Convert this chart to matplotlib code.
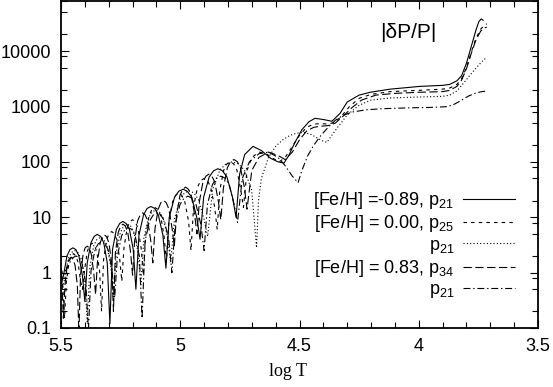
import matplotlib
matplotlib.use("Agg")
import matplotlib.pyplot as plt
from matplotlib.ticker import FixedLocator, LogLocator, NullFormatter, MultipleLocator, FuncFormatter

# |dP/P| vs log T (one row per arch)

# [Fe/H] = -0.89, p21 (solid)
m089_p21_logT = [5.500, 5.490, 5.475, 5.4625, 5.450, 5.4375, 5.425, 5.410,
                 5.400, 5.390, 5.374, 5.361, 5.348, 5.334, 5.321, 5.306,
                 5.295, 5.284, 5.268, 5.254, 5.241, 5.227, 5.213, 5.197,
                 5.186, 5.173, 5.154, 5.139, 5.123, 5.107, 5.092, 5.073,
                 5.060, 5.046, 5.024, 5.006, 4.988, 4.971, 4.952, 4.931,
                 4.917, 4.902, 4.879, 4.860, 4.842, 4.823, 4.804, 4.781,
                 4.766, 4.751, 4.730, 4.695, 4.660, 4.620, 4.590, 4.565, 4.545, 4.520,
                 4.490, 4.460, 4.435, 4.400, 4.364, 4.330, 4.300, 4.250, 4.204, 4.120,
                 3.995, 3.900, 3.870, 3.840, 3.820, 3.800, 3.780, 3.760, 3.748, 3.738, 3.730]
m089_p21_dP = [0.6, 0.87, 2.0, 2.6, 2.8, 2.6, 2.0, 0.87,
               0.3, 1.5, 3.5, 4.5, 4.9, 4.5, 3.5, 1.5,
               0.12, 2.6, 6.0, 7.7, 8.4, 7.7, 6.0, 2.6,
               0.5, 4.8, 11, 14.4, 15.6, 14.4, 11, 4.8,
               1.2, 10, 23, 29.5, 32, 29.5, 23, 10,
               4, 23, 53, 69, 75, 69, 53, 23,
               10, 60, 135, 190, 160, 115, 100, 95, 130, 220,
               380, 530, 610, 580, 540, 750, 1200, 1600, 1800, 2050,
               2300, 2400, 2500, 2900, 3600, 6000, 12000, 24000, 34000, 38000, 36000]

# [Fe/H] = 0.00, p25 (dashed)
p000_p25_logT = [5.505, 5.495,
                 5.485, 5.4775, 5.466, 5.457, 5.4475, 5.438, 5.429, 5.4175,
                 5.410, 5.402, 5.390, 5.380, 5.370, 5.360, 5.350, 5.338,
                 5.330, 5.3215, 5.309, 5.298, 5.2875, 5.277, 5.266, 5.2535,
                 5.245, 5.236, 5.2225, 5.211, 5.200, 5.189, 5.1775, 5.164,
                 5.155, 5.145, 5.131, 5.119, 5.1065, 5.094, 5.082, 5.068,
                 5.058, 5.048, 5.032, 5.019, 5.0065, 4.994, 4.981, 4.965,
                 4.955, 4.944, 4.9275, 4.914, 4.900, 4.886, 4.8725, 4.856,
                 4.845, 4.834, 4.8175, 4.804, 4.790, 4.776, 4.7625, 4.746,
                 4.735, 4.720, 4.700, 4.670, 4.640, 4.610, 4.585, 4.560, 4.530, 4.500,
                 4.470, 4.440, 4.410, 4.380, 4.350, 4.320, 4.290, 4.250, 4.200, 4.120,
                 4.000, 3.900, 3.870, 3.840, 3.820, 3.800, 3.780, 3.760, 3.740, 3.725, 3.715]
p000_p25_dP = [1.6, 0.9,
               0.15, 0.68, 1.56, 2.0, 2.2, 2.0, 1.56, 0.68,
               0.5, 1.05, 2.4, 3.1, 3.4, 3.1, 2.4, 1.05,
               0.2, 1.7, 3.9, 5.1, 5.5, 5.1, 3.9, 1.7,
               0.7, 2.8, 6.4, 8.3, 9, 8.3, 6.4, 2.8,
               0.9, 4.6, 10.6, 13.8, 15, 13.8, 10.6, 4.6,
               1.6, 8.4, 19, 25, 27, 25, 19, 8.4,
               2.5, 15.5, 35, 46, 50, 46, 35, 15.5,
               6, 31, 71, 92, 100, 92, 71, 31,
               15, 70, 120, 150, 140, 115, 100, 120, 190, 300,
               420, 480, 490, 480, 520, 700, 1000, 1400, 1650, 1850,
               1950, 2050, 2150, 2500, 3200, 5000, 9500, 17000, 25000, 29000, 31000]

# [Fe/H] = 0.00, p21 (dotted)
p000_p21_logT = [5.505,
                 5.495, 5.4845, 5.469, 5.456, 5.4425, 5.429, 5.416, 5.4005,
                 5.390, 5.379, 5.3625, 5.349, 5.335, 5.321, 5.3075, 5.291,
                 5.280, 5.2685, 5.251, 5.237, 5.2225, 5.208, 5.194, 5.1765,
                 5.165, 5.1525, 5.134, 5.118, 5.1025, 5.087, 5.071, 5.0525,
                 5.040, 5.0245, 5.001, 4.982, 4.9625, 4.943, 4.924, 4.9005,
                 4.885, 4.8645, 4.834, 4.808, 4.7825, 4.757, 4.731, 4.7005,
                 4.680, 4.672, 4.660, 4.630, 4.600, 4.570, 4.540, 4.510, 4.480, 4.450,
                 4.420, 4.400, 4.385, 4.370, 4.340, 4.300, 4.250, 4.200, 4.120, 4.000,
                 3.900, 3.870, 3.840, 3.810, 3.780, 3.750, 3.730, 3.714]
p000_p21_dP = [0.8,
               0.5, 0.78, 1.8, 2.3, 2.5, 2.3, 1.8, 0.78,
               0.13, 1.3, 3.1, 4.0, 4.3, 4.0, 3.1, 1.3,
               0.3, 2.3, 5.3, 6.9, 7.5, 6.9, 5.3, 2.3,
               0.6, 4.2, 9.6, 12.4, 13.5, 12.4, 9.6, 4.2,
               1.5, 9.3, 21, 27.6, 30, 27.6, 21, 9.3,
               4.5, 31, 71, 92, 100, 92, 71, 31,
               2.8, 20, 50, 120, 190, 250, 300, 330, 340, 310,
               260, 235, 225, 280, 420, 700, 1050, 1300, 1420, 1480,
               1520, 1600, 1900, 2700, 3900, 5500, 6800, 7700]

# [Fe/H] = 0.83, p34 (long dashes)
p083_p34_logT = [5.505, 5.498,
                 5.490, 5.4835, 5.474, 5.466, 5.4575, 5.449, 5.441, 5.4315,
                 5.425, 5.418, 5.4075, 5.399, 5.390, 5.381, 5.3725, 5.362,
                 5.355, 5.3475, 5.336, 5.327, 5.3175, 5.308, 5.299, 5.2875,
                 5.280, 5.272, 5.260, 5.250, 5.240, 5.230, 5.220, 5.208,
                 5.200, 5.1915, 5.179, 5.168, 5.1575, 5.147, 5.136, 5.1235,
                 5.115, 5.106, 5.0925, 5.081, 5.070, 5.059, 5.0475, 5.034,
                 5.025, 5.0155, 5.001, 4.989, 4.9775, 4.966, 4.954, 4.9395,
                 4.930, 4.920, 4.905, 4.8925, 4.880, 4.8675, 4.855, 4.840,
                 4.830, 4.819, 4.8025, 4.789, 4.775, 4.761, 4.7475, 4.731,
                 4.720, 4.700, 4.670, 4.630, 4.590, 4.560, 4.530, 4.500, 4.470, 4.440,
                 4.410, 4.380, 4.350, 4.320, 4.280, 4.240, 4.180, 4.100, 4.000,
                 3.900, 3.870, 3.840, 3.820, 3.800, 3.780, 3.760, 3.740, 3.725, 3.715]
p083_p34_dP = [1.9, 1.0,
               0.15, 0.59, 1.35, 1.75, 1.9, 1.75, 1.35, 0.59,
               0.08, 0.93, 2.1, 2.8, 3.0, 2.8, 2.1, 0.93,
               0.4, 1.5, 3.4, 4.4, 4.8, 4.4, 3.4, 1.5,
               0.2, 2.3, 5.3, 6.9, 7.5, 6.9, 5.3, 2.3,
               0.9, 3.7, 8.5, 11, 12, 11, 8.5, 3.7,
               1.5, 6.2, 14, 18.4, 20, 18.4, 14, 6.2,
               3, 11, 25, 32, 35, 32, 25, 11,
               5, 19, 43, 55, 60, 55, 43, 19,
               9, 34, 78, 101, 110, 101, 78, 34,
               14, 70, 120, 150, 130, 110, 150, 250, 360, 420,
               440, 450, 500, 650, 950, 1300, 1600, 1720, 1800,
               1850, 1950, 2300, 3000, 4800, 9000, 16000, 23000, 26000, 27000]

# [Fe/H] = 0.83, p21 (dash-dot)
p083_p21_logT = [5.505,
                 5.490, 5.4795, 5.464, 5.451, 5.4375, 5.424, 5.411, 5.3955,
                 5.385, 5.374, 5.3575, 5.344, 5.330, 5.316, 5.3025, 5.286,
                 5.275, 5.2635, 5.246, 5.232, 5.2175, 5.203, 5.189, 5.1715,
                 5.160, 5.1475, 5.129, 5.113, 5.0975, 5.082, 5.066, 5.0475,
                 5.035, 5.0215, 5.001, 4.984, 4.9675, 4.951, 4.934, 4.9135,
                 4.900, 4.886, 4.865, 4.8475, 4.830, 4.8125, 4.795, 4.774,
                 4.760, 4.740, 4.710, 4.670, 4.630, 4.590, 4.560, 4.530, 4.506, 4.490,
                 4.465, 4.440, 4.410, 4.380, 4.350, 4.320, 4.280, 4.220, 4.150, 4.050,
                 3.950, 3.880, 3.850, 3.820, 3.790, 3.760, 3.735, 3.714]
p083_p21_dP = [1.3,
               0.9, 1.1, 1.5, 1.85, 2.0, 1.85, 1.42, 0.62,
               0.09, 1.1, 2.6, 3.3, 3.6, 3.3, 2.6, 1.1,
               0.35, 2.0, 4.6, 6.0, 6.5, 6.0, 4.6, 2.0,
               0.15, 3.7, 8.5, 11, 12, 11, 8.5, 3.7,
               1.0, 7.4, 17, 22, 24, 22, 17, 7.4,
               2.5, 17, 39, 51, 55, 51, 39, 17,
               8, 50, 100, 140, 150, 120, 85, 55, 42, 70,
               130, 200, 300, 420, 560, 680, 790, 870, 910, 940,
               960, 990, 1100, 1300, 1550, 1750, 1850, 1900]

labels = ["[Fe/H] =-0.89, p$_{21}$", "[Fe/H] = 0.00, p$_{25}$", "p$_{21}$",
          "[Fe/H] = 0.83, p$_{34}$", "p$_{21}$"]
yticks = [0.1, 1, 10, 100, 1000, 10000]
xticks = [5.5, 5, 4.5, 4, 3.5]

plt.rcParams["font.family"] = ["Liberation Sans", "DejaVu Sans"]
plt.rcParams["mathtext.fontset"] = "custom"
plt.rcParams["mathtext.rm"] = "Liberation Sans"
plt.rcParams["mathtext.it"] = "Liberation Sans:italic"
plt.rcParams["lines.scale_dashes"] = False

fig = plt.figure(figsize=(5.53, 3.87), dpi=100)
ax = fig.add_axes([61/553, (387-328)/387, 477/553, 327/387])

styles = [dict(ls="-"),
          dict(ls=(0, (2.5, 3))),
          dict(ls=(0, (0.8, 1.6))),
          dict(ls=(0, (6, 2.5))),
          dict(ls=(0, (5, 2, 1, 2)))]
series = [(m089_p21_logT, m089_p21_dP), (p000_p25_logT, p000_p25_dP),
          (p000_p21_logT, p000_p21_dP), (p083_p34_logT, p083_p34_dP),
          (p083_p21_logT, p083_p21_dP)]
for (x, y), st, lab in zip(series, styles, labels):
    ax.plot(x, y, color="black", lw=0.8, label=lab, **st)

ax.set_yscale("log")
ax.set_xlim(5.5, 3.5)
ax.set_ylim(0.1, 8.0e4)

ax.xaxis.set_major_locator(FixedLocator(xticks))
ax.xaxis.set_minor_locator(MultipleLocator(0.1))
ax.xaxis.set_major_formatter(FuncFormatter(lambda v, p: "%g" % v))
ax.yaxis.set_major_locator(FixedLocator(yticks))
ax.yaxis.set_minor_locator(LogLocator(base=10, subs=(2, 5, 8)))
ax.yaxis.set_minor_formatter(NullFormatter())
ax.yaxis.set_major_formatter(FuncFormatter(lambda v, p: "%g" % v))

ax.tick_params(which="both", direction="in", top=True, right=True, labelsize=13, pad=7)
ax.tick_params(which="major", length=6, width=0.8)
ax.tick_params(which="minor", length=4, width=0.8)
for s in ax.spines.values():
    s.set_linewidth(1.3)

fig.text(288/553, 1 - 372/387, "log T", family="Liberation Serif", fontsize=13,
         ha="center", va="center")
fig.text(408/553, 1 - 33/387, "|δP/P|", fontsize=15, ha="center", va="center")

leg = ax.legend(loc="lower right", bbox_to_anchor=((515-61)/477, (328-300)/327),
                frameon=False, markerfirst=False, fontsize=13, handlelength=2.9,
                handletextpad=0.45, labelspacing=0.12, borderpad=0, borderaxespad=0)

fig.savefig("out.png", dpi=100)
